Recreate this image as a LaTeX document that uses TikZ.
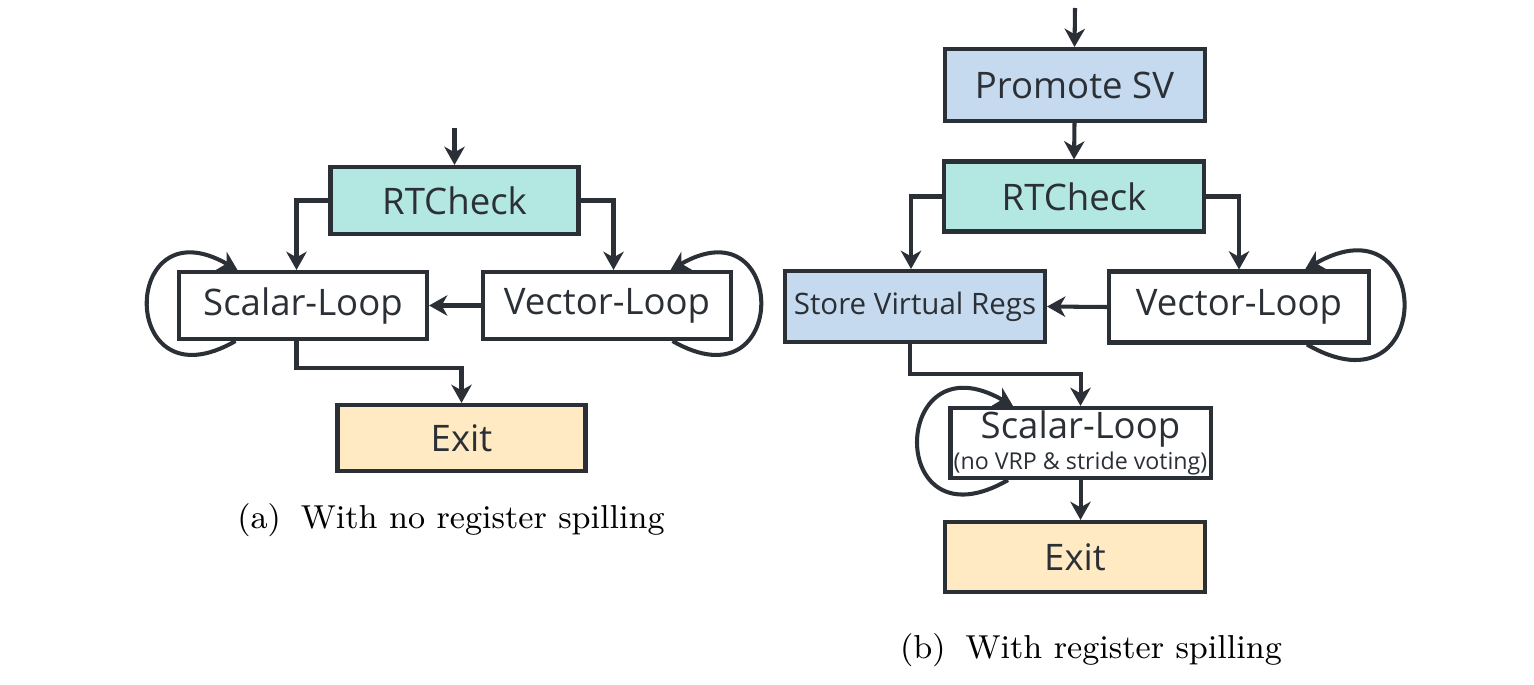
\documentclass[tikz,border=0pt]{standalone}
\usepackage{fontspec}
\newfontfamily\boxfont{Open Sans}
\usetikzlibrary{arrows.meta}
\definecolor{linegray}{HTML}{2B2F36}
\definecolor{checkteal}{HTML}{B3E7E1}
\definecolor{spillblue}{HTML}{C5DAEE}
\definecolor{exitsand}{HTML}{FFEAC4}
\begin{document}
\begin{tikzpicture}[
  blk/.style={draw=linegray, line width=1.15pt, rectangle, minimum width=2.48cm, minimum height=0.67cm, inner sep=0pt, text=linegray, font=\boxfont\fontsize{10.4}{12}\selectfont},
  wblk/.style={blk, minimum width=2.6cm, minimum height=0.71cm},
  arr/.style={draw=linegray, line width=1.15pt, -{Stealth[length=5.2pt,width=5.8pt,inset=1.6pt]}},
  captxt/.style={font=\fontsize{9.45}{11}\selectfont, text=black, anchor=base}
]
\useasboundingbox (0,0) rectangle (15.34,-6.84);
% (a) no spilling
\node[blk, fill=checkteal] (rtA) at (4.545,-2.005) {RTCheck};
\node[blk] (scA) at (3.03,-3.055) {Scalar-Loop};
\node[blk] (vecA) at (6.07,-3.055) {Vector-Loop};
\node[blk, fill=exitsand, minimum height=0.66cm] (exA) at (4.615,-4.38) {Exit};
\coordinate (inA) at (4.545,-1.28);
\draw[arr] (inA) -- (rtA.north);
\draw[arr] (rtA.west) -| ([xshift=-0.065cm]scA.north);
\draw[arr] (rtA.east) -| ([xshift=0.065cm]vecA.north);
\draw[arr] (vecA.west) -- (scA.east);
\draw[arr] ([xshift=-0.065cm]scA.south) -- ++(0,-0.27) -| (exA.north);
\draw[arr] ([xshift=-0.675cm]scA.south) to[out=-150, in=150, looseness=4.9] ([xshift=-0.655cm]scA.north);
\draw[arr] ([xshift=0.655cm]vecA.south) to[out=-30, in=30, looseness=4.9] ([xshift=0.635cm]vecA.north);
\node[captxt] (capA) at (4.51,-5.28) {(a)\hspace{0.6em}With no register spilling};
% (b) with spilling
\node[wblk, fill=spillblue, minimum height=0.72cm] (pmB) at (10.745,-0.85) {Promote SV};
\node[wblk, fill=checkteal, minimum height=0.70cm] (rtB) at (10.74,-1.965) {RTCheck};
\node[wblk, fill=spillblue, font=\boxfont\fontsize{8.4}{10}\selectfont] (stB) at (9.15,-3.065) {Store Virtual Regs};
\node[wblk] (vecB) at (12.39,-3.07) {Vector-Loop};
\node[wblk, minimum height=0.70cm, align=center, font=\boxfont\fontsize{10.4}{8.8}\selectfont] (scB) at (10.805,-4.43) {Scalar-Loop\\{\fontsize{6.6}{7}\selectfont (no VRP \& stride voting)}};
\node[wblk, fill=exitsand, minimum height=0.70cm] (exB) at (10.75,-5.57) {Exit};
\coordinate (inB) at (10.75,-0.08);
\draw[arr] (inB) -- (pmB.north);
\draw[arr] (pmB.south) -- (rtB.north);
\draw[arr] (rtB.west) -| ([xshift=-0.04cm]stB.north);
\draw[arr] (rtB.east) -| (vecB.north);
\draw[arr] (vecB.west) -- (stB.east);
\draw[arr] ([xshift=-0.05cm]stB.south) -- ++(0,-0.3) -| (scB.north);
\draw[arr] (scB.south) -- (scB.south |- exB.north);
\draw[arr] ([xshift=-0.725cm]scB.south) to[out=-150, in=150, looseness=4.9] ([xshift=-0.675cm]scB.north);
\draw[arr] ([xshift=0.68cm]vecB.south) to[out=-30, in=30, looseness=5.1] ([xshift=0.66cm]vecB.north);
\node[captxt] (capB) at (10.91,-6.58) {(b)\hspace{0.6em}With register spilling};
\end{tikzpicture}
\end{document}
